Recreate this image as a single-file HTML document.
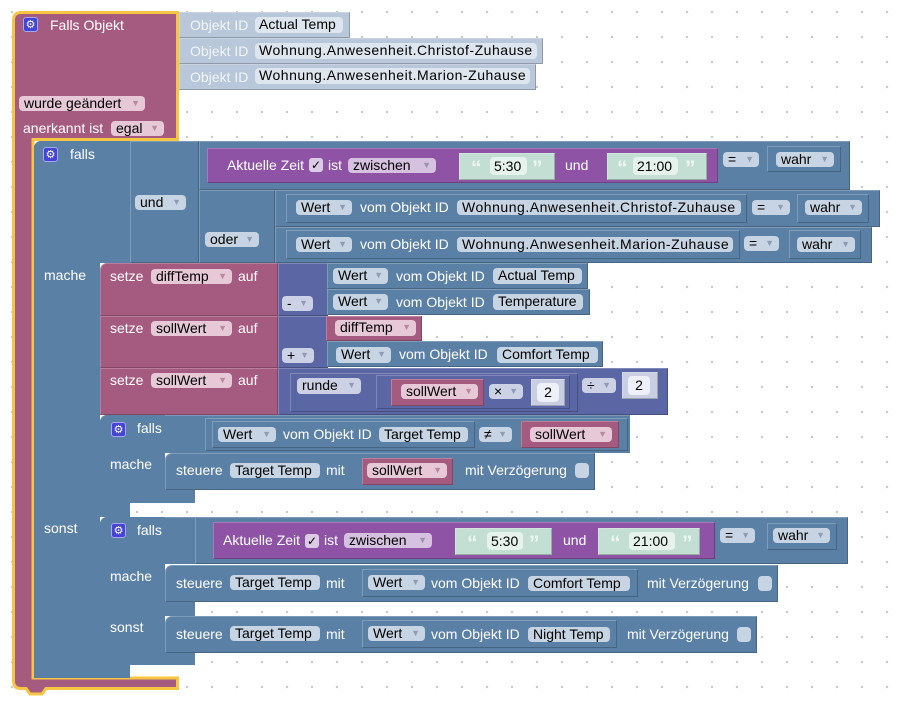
<!DOCTYPE html>
<html><head><meta charset="utf-8">
<style>
html,body{margin:0;padding:0}
body{width:905px;height:706px;overflow:hidden;position:relative;background-color:#fff;
background-image:radial-gradient(circle at 12px 12px,#c4c4c4 0.9px,rgba(255,255,255,0) 1.4px);background-size:25px 25px;
font-family:"Liberation Sans",Arial,sans-serif;}
.b{position:absolute;box-sizing:border-box;border:1px solid;border-color:rgba(255,255,255,.22) rgba(0,0,0,.22) rgba(0,0,0,.22) rgba(255,255,255,.22)}
.n{position:absolute;box-sizing:border-box}
.blue{background:#5B80A5}
.mar{background:#A55B80}
.ind{background:#5B67A5}
.pur{background:#8E53A4}
.str{background:#C3DED2}
.oid{background:#B8C7D9}
.num{background:#C9CEE3}
.l{position:absolute;color:#fff;font-size:14px;line-height:16px;white-space:nowrap}
.p{position:absolute;box-sizing:border-box;border-radius:4px;font-size:14px;color:#000;white-space:nowrap;padding-left:5px;line-height:15px;height:15px}
.p i{position:absolute;right:5px;top:0;font-style:normal;font-size:9px;color:rgba(70,90,120,.45)}
.bp{background:#C7D4E3}
.mp{background:#E6C8D6}
.mp i{color:rgba(130,60,90,.45)!important}
.pp{background:#D6C1E0}
.ip{background:#CDD1E6}
.sf{background:#E6F2EC;padding-left:4px}
.of{background:#DDE5EE;padding-left:4px}
.nf{background:#EEF0F8;text-align:center;padding-left:0}
.gear{position:absolute;width:15px;height:15px;box-sizing:border-box;background:#4444D6;border:1px solid #A8A8F2;border-radius:3px;color:#fff;font:11px/13px "DejaVu Sans",sans-serif;text-align:center}
.cb{position:absolute;box-sizing:border-box;width:14px;height:14px;border-radius:3px;background:#DCCBE6;color:#000;font:12px/14px "DejaVu Sans",sans-serif;text-align:center}
.ck{position:absolute;width:14px;height:15px;border-radius:4px;background:#C7D4E3}
.q{position:absolute;color:#EEF6F2;font:bold 21px/20px "Liberation Sans",sans-serif}
.ol{color:#F1F5F9}
.w{letter-spacing:0.52px}
</style></head><body>

<!-- event block -->
<svg width="905" height="706" style="position:absolute;left:0;top:0">
<path d="M13.5,20 Q13.5,12.5 21,12.5 H177.5 V139.5 H33 V678 H177.5 V688.5 H46 L42,694 H30 L26,688.5 H21 Q13.5,688.5 13.5,681 Z" fill="#A55B80" stroke="#F6C643" stroke-width="3"/>
</svg>
<div class="gear" style="left:23px;top:17px">⚙</div>
<div class="l" style="left:50px;top:17px">Falls Objekt</div>
<div class="p mp" style="left:19px;top:96px;width:126px">wurde geändert<i>▼</i></div>
<div class="l" style="left:23px;top:120px">anerkannt ist</div>
<div class="p mp" style="left:111px;top:121px;width:53px">egal<i>▼</i></div>

<!-- object id blocks -->
<div class="b oid" style="left:179px;top:12px;width:171px;height:26px"></div>
<div class="l ol" style="left:190px;top:17px">Objekt ID</div>
<div class="p of" style="left:255px;top:17px;width:88px;height:16px">Actual Temp</div>
<div class="b oid" style="left:179px;top:38px;width:364px;height:26px"></div>
<div class="l ol" style="left:190px;top:43px">Objekt ID</div>
<div class="p of w" style="left:255px;top:43px;width:282px;height:16px">Wohnung.Anwesenheit.Christof-Zuhause</div>
<div class="b oid" style="left:179px;top:64px;width:357px;height:26px"></div>
<div class="l ol" style="left:190px;top:69px">Objekt ID</div>
<div class="p of w" style="left:255px;top:68px;width:275px;height:16px">Wohnung.Anwesenheit.Marion-Zuhause</div>

<!-- outer falls -->
<div class="n blue" style="left:34px;top:141px;width:96px;height:122px;border-top-left-radius:7px"></div>
<div class="n blue" style="left:34px;top:141px;width:66px;height:537px;border-top-left-radius:7px"></div>
<div class="n blue" style="left:34px;top:503px;width:96px;height:14px"></div>
<div class="n blue" style="left:34px;top:665px;width:96px;height:13px"></div>
<div class="gear" style="left:43px;top:147px">⚙</div>
<div class="l" style="left:70px;top:146px">falls</div>
<div class="l" style="left:44px;top:267px">mache</div>
<div class="l" style="left:44px;top:520px">sonst</div>

<!-- und -->
<div class="b blue" style="left:130px;top:141px;width:69px;height:122px"></div>
<div class="p bp" style="left:135px;top:195px;width:51px">und<i>▼</i></div>
<!-- compare1 -->
<div class="b blue" style="left:199px;top:141px;width:651px;height:49px"></div>
<div class="b pur" style="left:207px;top:148px;width:511px;height:35px"></div>
<div class="l" style="left:227px;top:157px">Aktuelle Zeit</div>
<div class="cb" style="left:309px;top:158px">✓</div>
<div class="l" style="left:328px;top:157px">ist</div>
<div class="p pp" style="left:348px;top:158px;width:88px">zwischen<i>▼</i></div>
<div class="b str" style="left:459px;top:153px;width:96px;height:27px"></div>
<div class="q" style="left:471px;top:159px">“</div>
<div class="p sf" style="left:490px;top:157px;width:37px;height:18px;line-height:18px">5:30</div>
<div class="q" style="left:532px;top:159px">”</div>
<div class="l" style="left:565px;top:157px">und</div>
<div class="b str" style="left:607px;top:153px;width:100px;height:27px"></div>
<div class="q" style="left:617px;top:159px">“</div>
<div class="p sf" style="left:633px;top:157px;width:45px;height:18px;line-height:18px">21:00</div>
<div class="q" style="left:685px;top:159px">”</div>
<div class="p bp" style="left:723px;top:152px;width:36px">=<i>▼</i></div>
<div class="b blue" style="left:767px;top:146px;width:74px;height:26px"></div>
<div class="p bp" style="left:776px;top:152px;width:58px">wahr<i>▼</i></div>

<!-- oder -->
<div class="b blue" style="left:199px;top:190px;width:76px;height:73px"></div>
<div class="p bp" style="left:205px;top:232px;width:54px">oder<i>▼</i></div>
<div class="b blue" style="left:275px;top:190px;width:605px;height:37px"></div>
<div class="b blue" style="left:286px;top:194px;width:461px;height:29px"></div>
<div class="p bp" style="left:296px;top:200px;width:56px">Wert<i>▼</i></div>
<div class="l" style="left:360px;top:199px">vom Objekt ID</div>
<div class="p bp w" style="left:457px;top:200px;width:284px">Wohnung.Anwesenheit.Christof-Zuhause</div>
<div class="p bp" style="left:752px;top:200px;width:38px">=<i>▼</i></div>
<div class="b blue" style="left:797px;top:194px;width:72px;height:29px"></div>
<div class="p bp" style="left:805px;top:200px;width:57px">wahr<i>▼</i></div>

<div class="b blue" style="left:275px;top:227px;width:597px;height:36px"></div>
<div class="b blue" style="left:286px;top:230px;width:454px;height:29px"></div>
<div class="p bp" style="left:296px;top:237px;width:56px">Wert<i>▼</i></div>
<div class="l" style="left:360px;top:236px">vom Objekt ID</div>
<div class="p bp w" style="left:457px;top:237px;width:276px">Wohnung.Anwesenheit.Marion-Zuhause</div>
<div class="p bp" style="left:744px;top:236px;width:35px">=<i>▼</i></div>
<div class="b blue" style="left:789px;top:230px;width:72px;height:29px"></div>
<div class="p bp" style="left:797px;top:237px;width:58px">wahr<i>▼</i></div>

<!-- setze 1 -->
<div class="b mar" style="left:100px;top:263px;width:178px;height:53px;border-top-left-radius:7px"></div>
<div class="l" style="left:110px;top:268px">setze</div>
<div class="p mp" style="left:151px;top:269px;width:81px">diffTemp<i>▼</i></div>
<div class="l" style="left:238px;top:268px">auf</div>
<div class="b ind" style="left:278px;top:263px;width:50px;height:53px"></div>
<div class="p ip" style="left:282px;top:296px;width:31px">-<i>▼</i></div>
<div class="b blue" style="left:327px;top:263px;width:261px;height:26px"></div>
<div class="p bp" style="left:333px;top:268px;width:55px;height:16px">Wert<i>▼</i></div>
<div class="l" style="left:396px;top:268px">vom Objekt ID</div>
<div class="p bp" style="left:493px;top:268px;width:89px;height:16px">Actual Temp</div>
<div class="b blue" style="left:327px;top:289px;width:263px;height:26px"></div>
<div class="p bp" style="left:333px;top:294px;width:55px;height:16px">Wert<i>▼</i></div>
<div class="l" style="left:396px;top:294px">vom Objekt ID</div>
<div class="p bp" style="left:493px;top:294px;width:90px;height:16px">Temperature</div>

<!-- setze 2 -->
<div class="b mar" style="left:100px;top:316px;width:178px;height:52px"></div>
<div class="l" style="left:110px;top:320px">setze</div>
<div class="p mp" style="left:151px;top:321px;width:81px">sollWert<i>▼</i></div>
<div class="l" style="left:238px;top:320px">auf</div>
<div class="b ind" style="left:278px;top:316px;width:50px;height:52px"></div>
<div class="p ip" style="left:282px;top:348px;width:32px">+<i>▼</i></div>
<div class="b mar" style="left:326px;top:316px;width:96px;height:25px"></div>
<div class="p mp" style="left:335px;top:320px;width:81px;height:16px">diffTemp<i>▼</i></div>
<div class="b blue" style="left:327px;top:341px;width:276px;height:26px"></div>
<div class="p bp" style="left:336px;top:347px;width:55px;height:16px">Wert<i>▼</i></div>
<div class="l" style="left:399px;top:346px">vom Objekt ID</div>
<div class="p bp" style="left:497px;top:347px;width:101px;height:16px">Comfort Temp</div>

<!-- setze 3 -->
<div class="b mar" style="left:100px;top:368px;width:178px;height:47px"></div>
<div class="l" style="left:110px;top:372px">setze</div>
<div class="p mp" style="left:151px;top:373px;width:81px">sollWert<i>▼</i></div>
<div class="l" style="left:238px;top:372px">auf</div>
<div class="b ind" style="left:278px;top:368px;width:390px;height:47px"></div>
<div class="b ind" style="left:290px;top:373px;width:288px;height:39px"></div>
<div class="p ip" style="left:297px;top:378px;width:64px;height:16px">runde<i>▼</i></div>
<div class="b ind" style="left:376px;top:375px;width:194px;height:34px"></div>
<div class="b mar" style="left:391px;top:379px;width:93px;height:27px"></div>
<div class="p mp" style="left:401px;top:384px;width:77px">sollWert<i>▼</i></div>
<div class="p ip" style="left:489px;top:384px;width:34px">×<i>▼</i></div>
<div class="b num" style="left:531px;top:379px;width:34px;height:27px"></div>
<div class="p nf" style="left:537px;top:383px;width:22px;height:19px;line-height:19px">2</div>
<div class="p ip" style="left:582px;top:378px;width:34px">÷<i>▼</i></div>
<div class="b num" style="left:622px;top:372px;width:36px;height:27px"></div>
<div class="p nf" style="left:628px;top:376px;width:22px;height:19px;line-height:19px">2</div>

<!-- inner falls 1 -->
<div class="n blue" style="left:100px;top:415px;width:530px;height:38px;border-top-left-radius:7px;border-top:1px solid rgba(255,255,255,.2)"></div>
<div class="n blue" style="left:100px;top:415px;width:65px;height:88px;border-top-left-radius:7px"></div>
<div class="n blue" style="left:100px;top:490px;width:95px;height:13px"></div>
<div class="gear" style="left:111px;top:422px">⚙</div>
<div class="l" style="left:137px;top:420px">falls</div>
<div class="b blue" style="left:205px;top:418px;width:423px;height:33px"></div>
<div class="b blue" style="left:212px;top:421px;width:263px;height:27px"></div>
<div class="p bp" style="left:218px;top:427px;width:58px">Wert<i>▼</i></div>
<div class="l" style="left:283px;top:426px">vom Objekt ID</div>
<div class="p bp" style="left:379px;top:427px;width:89px">Target Temp</div>
<div class="p bp" style="left:479px;top:427px;width:33px">≠<i>▼</i></div>
<div class="b mar" style="left:521px;top:421px;width:98px;height:27px"></div>
<div class="p mp" style="left:530px;top:427px;width:82px">sollWert<i>▼</i></div>
<div class="l" style="left:110px;top:456px">mache</div>
<div class="b blue" style="left:165px;top:453px;width:430px;height:37px;border-top-left-radius:7px"></div>
<div class="l" style="left:176px;top:462px">steuere</div>
<div class="p bp" style="left:230px;top:463px;width:90px">Target Temp</div>
<div class="l" style="left:326px;top:462px">mit</div>
<div class="b mar" style="left:362px;top:458px;width:91px;height:27px"></div>
<div class="p mp" style="left:367px;top:463px;width:80px">sollWert<i>▼</i></div>
<div class="l" style="left:465px;top:462px">mit Verzögerung</div>
<div class="ck" style="left:575px;top:463px"></div>

<!-- inner falls 2 -->
<div class="n blue" style="left:100px;top:517px;width:748px;height:47px;border-top-left-radius:7px;border-top:1px solid rgba(255,255,255,.2)"></div>
<div class="n blue" style="left:100px;top:517px;width:65px;height:148px;border-top-left-radius:7px"></div>
<div class="n blue" style="left:100px;top:602px;width:95px;height:14px"></div>
<div class="n blue" style="left:100px;top:653px;width:95px;height:12px"></div>
<div class="gear" style="left:111px;top:523px">⚙</div>
<div class="l" style="left:137px;top:522px">falls</div>
<div class="b blue" style="left:195px;top:517px;width:653px;height:47px"></div>
<div class="b pur" style="left:213px;top:522px;width:502px;height:37px"></div>
<div class="l" style="left:223px;top:532px">Aktuelle Zeit</div>
<div class="cb" style="left:305px;top:534px">✓</div>
<div class="l" style="left:324px;top:532px">ist</div>
<div class="p pp" style="left:344px;top:533px;width:88px">zwischen<i>▼</i></div>
<div class="b str" style="left:455px;top:528px;width:97px;height:27px"></div>
<div class="q" style="left:467px;top:534px">“</div>
<div class="p sf" style="left:487px;top:532px;width:36px;height:18px;line-height:18px">5:30</div>
<div class="q" style="left:529px;top:534px">”</div>
<div class="l" style="left:563px;top:532px">und</div>
<div class="b str" style="left:598px;top:528px;width:102px;height:27px"></div>
<div class="q" style="left:610px;top:534px">“</div>
<div class="p sf" style="left:629px;top:532px;width:46px;height:18px;line-height:18px">21:00</div>
<div class="q" style="left:682px;top:534px">”</div>
<div class="p bp" style="left:720px;top:528px;width:35px">=<i>▼</i></div>
<div class="b blue" style="left:767px;top:523px;width:70px;height:27px"></div>
<div class="p bp" style="left:773px;top:528px;width:57px">wahr<i>▼</i></div>

<div class="l" style="left:110px;top:568px">mache</div>
<div class="b blue" style="left:165px;top:565px;width:613px;height:37px;border-top-left-radius:7px"></div>
<div class="l" style="left:176px;top:575px">steuere</div>
<div class="p bp" style="left:230px;top:575px;width:90px">Target Temp</div>
<div class="l" style="left:326px;top:575px">mit</div>
<div class="b blue" style="left:362px;top:569px;width:276px;height:28px"></div>
<div class="p bp" style="left:368px;top:575px;width:57px">Wert<i>▼</i></div>
<div class="l" style="left:431px;top:575px">vom Objekt ID</div>
<div class="p bp" style="left:528px;top:576px;width:102px">Comfort Temp</div>
<div class="l" style="left:647px;top:575px">mit Verzögerung</div>
<div class="ck" style="left:758px;top:576px"></div>

<div class="l" style="left:110px;top:619px">sonst</div>
<div class="b blue" style="left:165px;top:616px;width:592px;height:37px;border-top-left-radius:7px"></div>
<div class="l" style="left:176px;top:626px">steuere</div>
<div class="p bp" style="left:230px;top:626px;width:90px">Target Temp</div>
<div class="l" style="left:326px;top:626px">mit</div>
<div class="b blue" style="left:362px;top:620px;width:255px;height:28px"></div>
<div class="p bp" style="left:368px;top:626px;width:57px">Wert<i>▼</i></div>
<div class="l" style="left:431px;top:626px">vom Objekt ID</div>
<div class="p bp" style="left:528px;top:627px;width:82px">Night Temp</div>
<div class="l" style="left:627px;top:626px">mit Verzögerung</div>
<div class="ck" style="left:737px;top:627px"></div>

</body></html>
